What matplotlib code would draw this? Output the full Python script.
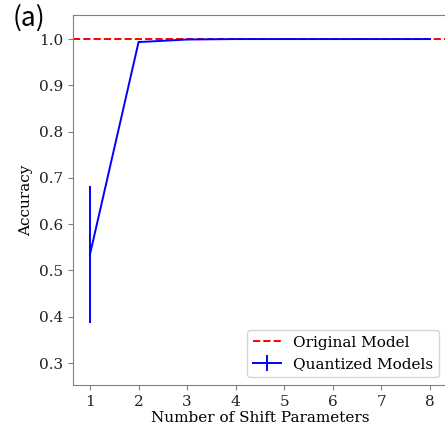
import matplotlib
matplotlib.use('Agg')
import matplotlib.pyplot as plt

# accuracy vs number of shift parameters
n_shift = [1, 2, 3, 4, 5, 6, 7, 8]
acc_mean = [0.535, 0.9935, 0.999, 1.0, 1.0, 1.0, 1.0, 1.0]
acc_std = [0.148, 0.002, 0.0005, 0.0, 0.0, 0.0, 0.0, 0.0]
original_acc = 1.0

plt.rcParams['font.family'] = 'DejaVu Serif'

fig = plt.figure(figsize=(4.45, 4.30), dpi=100)
ax = fig.add_axes([73 / 445, 1 - 385 / 430, 374 / 445, 370 / 430])

ax.axhline(original_acc, color='red', linestyle='--', linewidth=1.4, label='Original Model')
ax.errorbar(n_shift, acc_mean, yerr=acc_std, color='blue', linewidth=1.4,
            label='Quantized Models')

ax.set_xlim(0.65, 8.35)
ax.set_ylim(0.2525, 1.052)
ax.set_xticks(n_shift)
ax.set_xlabel('Number of Shift Parameters', fontsize=11, labelpad=2)
ax.set_ylabel('Accuracy', fontsize=11, labelpad=4)
ax.tick_params(labelsize=11, colors='#222222')
ax.tick_params(axis='both', color='#808080')
for sp in ax.spines.values():
    sp.set_color('#808080')

ax.legend(loc='lower right', fontsize=11, handlelength=1.8)

fig.text(0.028, 0.99, '(a)', fontsize=19, family=['Noto Sans CJK JP', 'DejaVu Sans'],
         va='top', ha='left')

fig.savefig('out.png', dpi=100)
